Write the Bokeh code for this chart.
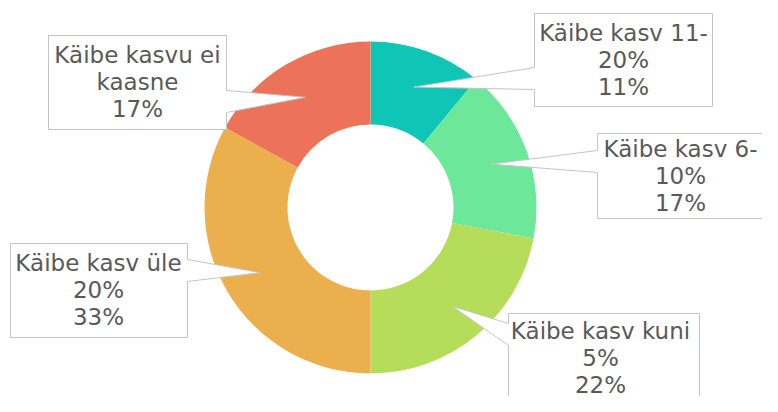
import math
from bokeh.plotting import figure
from bokeh.models import Range1d, ColumnDataSource
from bokeh.core.properties import value
from bokeh.embed import file_html
from bokeh.resources import INLINE

# ---- data ----
categories = ["Käibe kasv 11-20%", "Käibe kasv 6-10%", "Käibe kasv kuni 5%",
              "Käibe kasv üle 20%", "Käibe kasvu ei kaasne"]
label_lines = [["Käibe kasv 11-", "20%"],
               ["Käibe kasv 6-", "10%"],
               ["Käibe kasv kuni", "5%"],
               ["Käibe kasv üle", "20%"],
               ["Käibe kasvu ei", "kaasne"]]
shares = [11, 17, 22, 33, 17]
colors = ["#0fc6b6", "#6de89a", "#b5dd5a", "#ecaf4d", "#ec735a"]

# ---- layout (picture pixels) ----
W, H = 762, 396
CX, CY = 370, 207
R_OUT, R_IN, R_TIP = 166, 83, 128
# box: x0, y0, x1, y1, pointer side, pointer base centre y, text centre x, first line y
boxes = [
    (534, 13, 712, 106, "left", 78, 623, 32),
    (597, 133, 800, 218, "left", 161, 680, 148),
    (508, 313, 699, 440, "left", 334, 600, 330),
    (10, 243, 187, 337, "right", 270, 98, 262),
    (48, 35, 226, 129, "right", 101, 137, 54),
]
LINE_GAP = 27
BASE_HALF = 11

p = figure(width=W, height=H, output_backend="svg", toolbar_location=None,
           x_range=Range1d(0, W), y_range=Range1d(0, H),
           x_axis_type=None, y_axis_type=None, min_border=0,
           outline_line_color=None, background_fill_color="white",
           border_fill_color="white")
p.grid.visible = False


def Y(sy):
    return H - sy


total = float(sum(shares))
starts, ends, tips = [], [], []
c = 0.0
for v in shares:
    c0, c1 = c / total, (c + v) / total
    starts.append(math.pi / 2 - 2 * math.pi * c0)
    ends.append(math.pi / 2 - 2 * math.pi * c1)
    am = 2 * math.pi * (c0 + c1) / 2
    tips.append((CX + R_TIP * math.sin(am), CY - R_TIP * math.cos(am)))
    c += v

src = ColumnDataSource(dict(x=[CX] * len(shares), y=[Y(CY)] * len(shares),
                            start=starts, end=ends, color=colors, cat=categories))
p.annular_wedge(x="x", y="y", inner_radius=R_IN, outer_radius=R_OUT,
                start_angle="start", end_angle="end", direction="clock",
                fill_color="color", line_color=None, source=src)

# callouts
xs, ys = [], []
tx, ty, tt = [], [], []
for (x0, y0, x1, y1, side, bc, mx, ly), (tpx, tpy), lines, v in zip(boxes, tips, label_lines, shares):
    b0, b1 = bc - BASE_HALF, bc + BASE_HALF
    if side == "left":
        pts = [(x0, y0), (x1, y0), (x1, y1), (x0, y1), (x0, b1), (tpx, tpy), (x0, b0)]
    else:
        pts = [(x0, y0), (x1, y0), (x1, b0), (tpx, tpy), (x1, b1), (x1, y1), (x0, y1)]
    xs.append([q[0] for q in pts])
    ys.append([Y(q[1]) for q in pts])
    for i, t in enumerate(lines + [f"{v}%"]):
        tx.append(mx)
        ty.append(Y(ly + i * LINE_GAP))
        tt.append(t)

p.patches(xs=xs, ys=ys, fill_color="white", line_color="#c4c4c4", line_width=1)
p.text(x=tx, y=ty, text=tt, text_font=value("DejaVu Sans"), text_font_size="23px",
       text_color="#595959", text_align="center", text_baseline="middle")

open("out.html", "w").write(file_html(p, INLINE))
